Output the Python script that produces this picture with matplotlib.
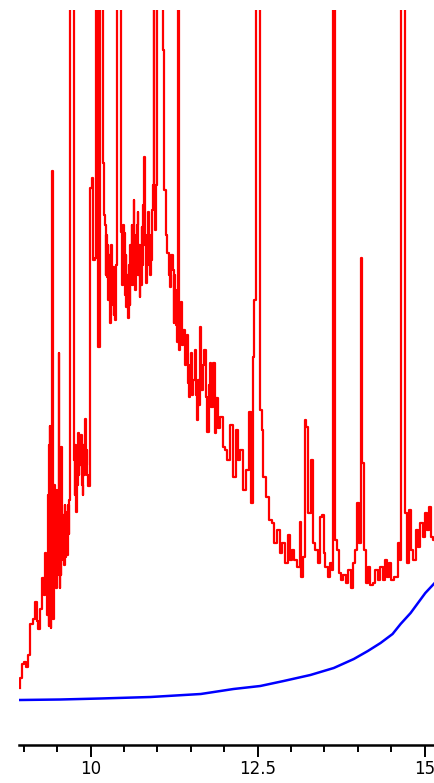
import matplotlib
matplotlib.use("Agg")
import matplotlib.pyplot as plt
from matplotlib.ticker import MultipleLocator

# Red spectrum: wavelength (x) and intensity (arbitrary units); tall lines exceed the plot top
red_x = [8.94, 8.95, 8.99, 9.03, 9.05, 9.08, 9.12, 9.15, 9.19, 9.20, 9.23, 9.25,
         9.29, 9.31, 9.33, 9.34, 9.35, 9.36, 9.37, 9.38, 9.385, 9.39, 9.395, 9.40, 9.41, 9.42,
         9.43, 9.44, 9.45, 9.46, 9.465, 9.47, 9.48, 9.49, 9.495, 9.50, 9.51, 9.52, 9.53, 9.535,
         9.54, 9.55, 9.56, 9.57, 9.58, 9.59, 9.60, 9.61, 9.62, 9.63, 9.64, 9.65, 9.66, 9.67, 9.68,
         9.69, 9.71, 9.74, 9.76, 9.77, 9.78, 9.79, 9.80, 9.81, 9.82, 9.83, 9.84, 9.86, 9.87, 9.88,
         9.89, 9.90, 9.91, 9.93, 9.94, 9.95, 9.96, 9.97,
         10.00, 10.03, 10.05, 10.07, 10.10, 10.12, 10.16,
         10.20, 10.21, 10.22, 10.23, 10.24, 10.25, 10.26, 10.27, 10.28, 10.29, 10.30, 10.305, 10.31,
         10.32, 10.33, 10.34, 10.35, 10.36, 10.37, 10.38, 10.40, 10.45, 10.47, 10.48, 10.49, 10.50,
         10.51, 10.52, 10.53, 10.54, 10.55, 10.56, 10.57, 10.58, 10.59, 10.60, 10.61, 10.62, 10.63,
         10.64, 10.65, 10.66, 10.67, 10.68, 10.69, 10.70, 10.71, 10.72, 10.73, 10.74, 10.75, 10.76,
         10.77, 10.78, 10.79, 10.80, 10.81, 10.82, 10.83, 10.84, 10.85, 10.86, 10.87, 10.88, 10.89,
         10.90, 10.91, 10.92, 10.93, 10.94, 10.95, 10.96, 10.97, 10.98, 11.00, 11.03, 11.08,
         11.09, 11.12, 11.14, 11.16, 11.18, 11.20, 11.22, 11.24, 11.25, 11.26, 11.27, 11.29, 11.30, 11.32,
         11.34, 11.35, 11.36, 11.38, 11.40, 11.42, 11.43, 11.45, 11.46, 11.48, 11.50, 11.51, 11.53,
         11.55, 11.57, 11.59, 11.60, 11.62, 11.64, 11.65, 11.67, 11.69, 11.71,
         11.74, 11.76, 11.78, 11.80, 11.82, 11.85, 11.87, 11.90, 11.92, 11.96, 12.00, 12.02, 12.07,
         12.11, 12.15, 12.20, 12.22, 12.25, 12.30, 12.35, 12.38, 12.42, 12.44, 12.46, 12.49, 12.53,
         12.55, 12.57, 12.59, 12.65, 12.69, 12.73, 12.77, 12.82, 12.84, 12.89, 12.93, 12.97, 12.99,
         13.03, 13.07, 13.12, 13.14, 13.17, 13.19, 13.22, 13.24, 13.27, 13.32, 13.34, 13.38, 13.42,
         13.45, 13.48, 13.50, 13.53, 13.57, 13.60, 13.62, 13.64, 13.67, 13.70, 13.73, 13.77, 13.80,
         13.84, 13.88, 13.92, 13.94, 13.97, 14.00, 14.03, 14.06, 14.08, 14.10, 14.13, 14.17, 14.20,
         14.24, 14.28, 14.32, 14.35, 14.39, 14.42, 14.45, 14.48, 14.52, 14.55, 14.59, 14.62, 14.64,
         14.66, 14.70, 14.72, 14.74, 14.78, 14.81, 14.85, 14.88, 14.91, 14.95, 14.99, 15.01, 15.05,
         15.08, 15.11, 15.14]
red_y = [57, 67, 81, 83, 78, 90, 121, 126, 143, 124, 116, 136,
         167, 150, 192, 160, 166, 130, 250, 119, 300, 319, 140, 280, 117, 200,
         574, 150, 126, 260, 160, 230, 170, 157, 240, 255, 170, 230, 392, 200,
         157, 220, 170, 298, 190, 185, 230, 180, 240, 188, 220, 233, 190, 240, 211,
         245, 1000, 1000, 285, 250, 300, 233, 290, 260, 312, 270, 300, 280, 310, 260,
         250, 300, 270, 326, 280, 295, 270, 259,
         557, 567, 485, 487, 1000, 398, 1000,
         582, 530, 520, 470, 510, 468, 500, 445, 490, 430, 422, 480, 500,
         440, 470, 478, 430, 460, 425, 480, 1000, 1000, 513, 460, 520, 470,
         512, 450, 490, 438, 470, 430, 427, 480, 440, 500, 472, 520, 460,
         510, 545, 470, 455, 510, 470, 520, 533, 470, 500, 448, 490, 460,
         518, 480, 540, 500, 588, 500, 470, 462, 510, 480, 533, 490, 510,
         470, 485, 520, 535, 560, 1000, 540, 515, 560, 1000, 1000, 1000,
         695, 555, 510, 492, 470, 458, 490, 475, 422, 470, 455, 420, 403, 1000,
         395, 430, 443, 400, 415, 380, 388, 410, 362, 348, 380, 392, 350,
         365, 395, 350, 325, 365, 340, 418, 355, 380, 395,
         348, 313, 360, 382, 338, 382, 312, 347, 317, 328, 298, 295, 285,
         320, 268, 315, 285, 295, 255, 275, 333, 242, 388, 445, 1000, 1000,
         335, 315, 268, 248, 225, 222, 202, 215, 192, 202, 182, 210, 185,
         195, 185, 178, 223, 168, 188, 325, 318, 232, 285, 202, 195, 182,
         228, 230, 192, 178, 168, 182, 175, 1000, 205, 195, 172, 165, 170,
         162, 175, 157, 182, 195, 242, 202, 487, 282, 195, 162, 178, 160,
         162, 175, 165, 178, 165, 185, 168, 182, 165, 168, 168, 202, 185,
         1000, 1000, 232, 182, 235, 195, 185, 215, 198, 222, 208, 232, 215,
         238, 208, 205]

# Blue smooth baseline curve
blue_x = [8.94, 9.55, 10.15, 10.90, 11.65, 12.14, 12.54, 12.89, 13.29, 13.64,
          13.94, 14.15, 14.34, 14.52, 14.64, 14.79, 14.90, 15.01, 15.15]
blue_y = [45, 45.5, 46.5, 48, 51, 56, 59, 64, 70, 77,
          86, 94, 102, 111, 121, 132, 142, 152, 162]

major_ticks = [10, 12.5, 15]
major_labels = ["10", "12.5", "15"]

fig = plt.figure(figsize=(4.34, 7.83), dpi=100)
ax = fig.add_axes([19 / 434, 38 / 783, 415 / 434, 735 / 783])

ax.plot(red_x, red_y, color="#ff0000", linewidth=1.6, drawstyle="steps-mid")
ax.plot(blue_x, blue_y, color="#0000ff", linewidth=1.8)

ax.set_xlim(8.93, 15.14)
ax.set_ylim(0, 735)

for s in ("top", "right", "left"):
    ax.spines[s].set_visible(False)
ax.spines["bottom"].set_linewidth(1.8)
ax.spines["bottom"].set_color("black")
ax.set_yticks([])

ax.set_xticks(major_ticks)
ax.set_xticklabels(major_labels)
ax.xaxis.set_minor_locator(MultipleLocator(0.5))
ax.tick_params(axis="x", which="major", direction="out", length=8.5, width=1.4,
               pad=2, labelsize=12, colors="black")
ax.tick_params(axis="x", which="minor", direction="out", length=4.8, width=1.4)
for lbl in ax.get_xticklabels():
    lbl.set_family("DejaVu Sans")

fig.savefig("out.png", dpi=100)
